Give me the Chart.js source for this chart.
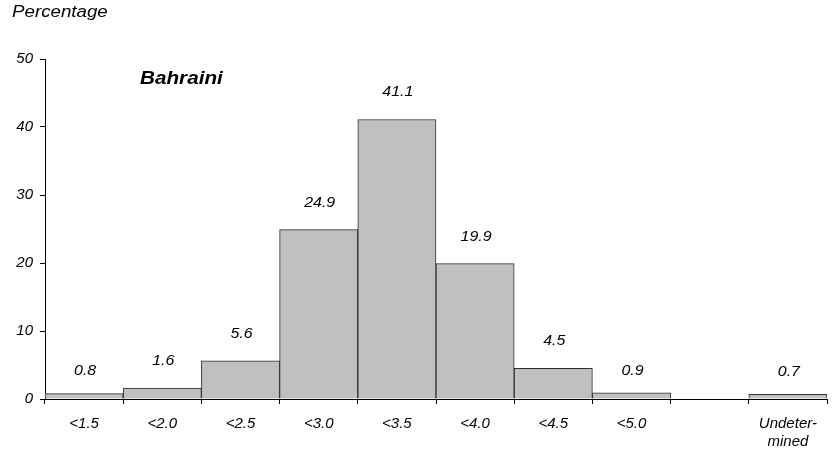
<!DOCTYPE html>
<html>
<head>
<meta charset="utf-8">
<script src="https://cdn.jsdelivr.net/npm/chart.js@4"></script>
<style>
  body { margin: 0; background: #fff; }
  #wrap { width: 832px; height: 460px; }
</style>
</head>
<body>
<div id="wrap"><canvas id="chart" width="832" height="460"></canvas></div>
<script>
// data
const categories = ['<1.5', '<2.0', '<2.5', '<3.0', '<3.5', '<4.0', '<4.5', '<5.0', '', ['Undeter-', 'mined']];
const percentages = [0.8, 1.6, 5.6, 24.9, 41.1, 19.9, 4.5, 0.9, null, 0.7];
const yTicks = [0, 10, 20, 30, 40, 50];
const yTitle = 'Percentage';
const chartTitle = 'Bahraini';

const FONT = "'Liberation Sans', Arial, sans-serif";

// the original text is slightly stretched sideways
function wideText(ctx, text, x, y, stretch) {
    ctx.save();
    ctx.translate(x, y);
    ctx.scale(stretch, 1);
    ctx.fillText(text, 0, 0);
    ctx.restore();
}

// values written above each bar
const barLabels = {
    id: 'barLabels',
    afterDatasetsDraw(chart) {
        const ctx = chart.ctx;
        const meta = chart.getDatasetMeta(0);
        ctx.save();
        ctx.font = 'italic 14px ' + FONT;
        ctx.fillStyle = '#000';
        ctx.textAlign = 'center';
        ctx.textBaseline = 'middle';
        meta.data.forEach((bar, i) => {
            const v = percentages[i];
            if (v === null || v === undefined) return;
            const off = v < 1 ? 22 : 27;
            wideText(ctx, v.toFixed(1), bar.x + 1, bar.y - off, 1.14);
        });
        ctx.restore();
    }
};

// "Percentage" above the axis and the series name inside the plot
const titles = {
    id: 'titles',
    afterDraw(chart) {
        const ctx = chart.ctx;
        const area = chart.chartArea;
        ctx.save();
        ctx.fillStyle = '#000';
        ctx.textAlign = 'left';
        ctx.textBaseline = 'middle';
        ctx.font = 'italic 16px ' + FONT;
        wideText(ctx, yTitle, area.left - 33, 13, 1.17);
        ctx.font = 'italic bold 19px ' + FONT;
        wideText(ctx, chartTitle, area.left + 95, area.top + 20, 1.09);
        ctx.restore();
    }
};

new Chart(document.getElementById('chart'), {
    type: 'bar',
    data: {
        labels: categories,
        datasets: [{
            data: percentages,
            backgroundColor: '#c0c0c0',
            borderColor: '#2e2e2e',
            borderWidth: 1,
            barPercentage: 1,
            categoryPercentage: 1
        }]
    },
    options: {
        responsive: false,
        animation: false,
        layout: { padding: { top: 59, right: 5, left: 0, bottom: 0 } },
        plugins: {
            legend: { display: false },
            tooltip: { enabled: false }
        },
        scales: {
            x: {
                offset: true,
                grid: { drawOnChartArea: false, drawTicks: true, tickLength: 5, color: '#000', offset: true },
                border: { display: true, color: '#000', width: 1 },
                ticks: {
                    color: '#000',
                    padding: 11,
                    maxRotation: 0,
                    autoSkip: false,
                    font: { family: FONT, size: 15, style: 'italic', lineHeight: 1.2 }
                },
                afterFit(scale) { scale.height = 61; }
            },
            y: {
                min: 0,
                max: 50,
                afterBuildTicks(scale) { scale.ticks = yTicks.map(v => ({ value: v })); },
                grid: { drawOnChartArea: false, drawTicks: true, tickLength: 5, color: '#000' },
                border: { display: true, color: '#000', width: 1 },
                ticks: {
                    color: '#000',
                    padding: 7,
                    font: { family: FONT, size: 15, style: 'italic' }
                },
                afterFit(scale) { scale.width = 45; }
            }
        }
    },
    plugins: [barLabels, titles]
});
</script>
</body>
</html>
